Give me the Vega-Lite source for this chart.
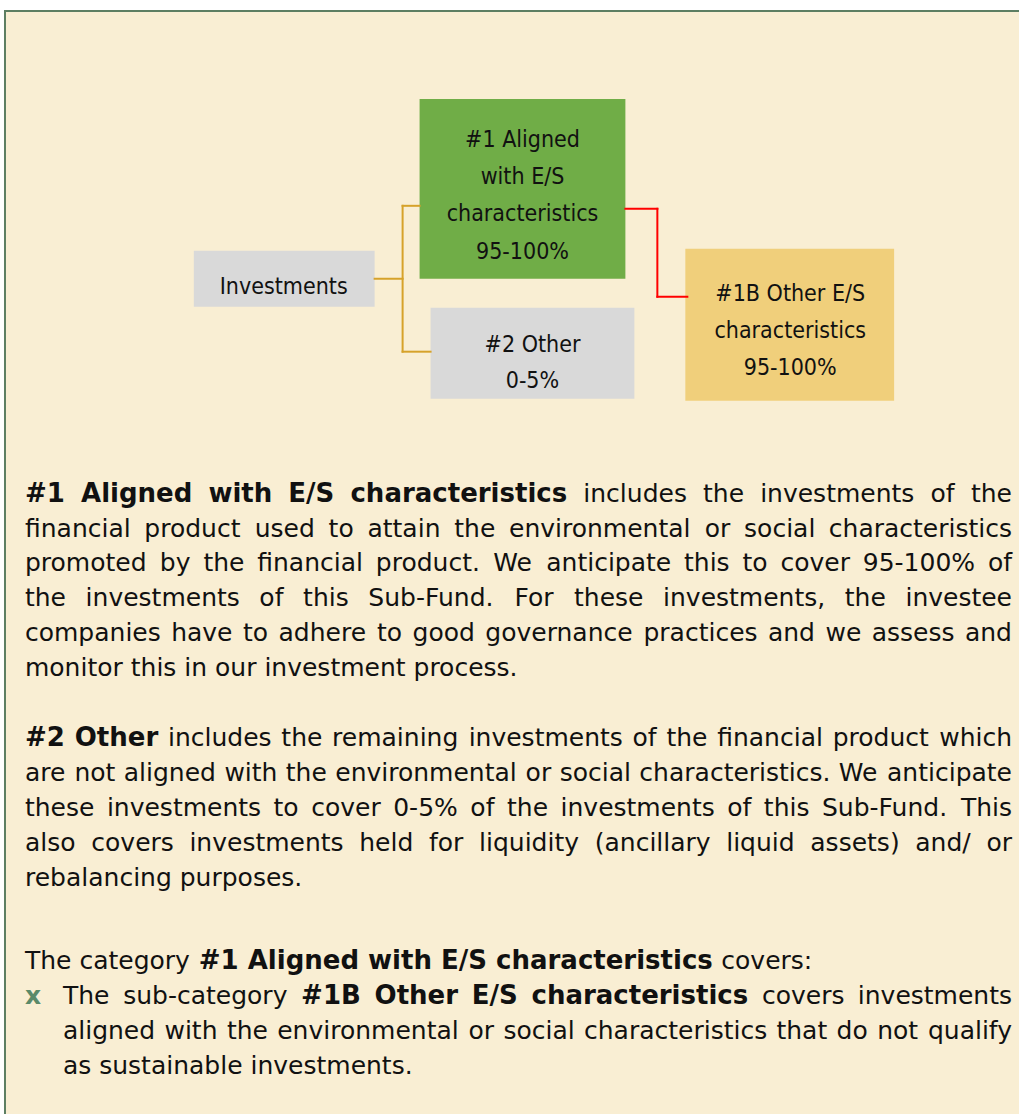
{
  "$schema": "https://vega.github.io/schema/vega-lite/v6.json",
  "width": 1020,
  "height": 1115,
  "autosize": {"type": "fit", "contains": "padding"},
  "padding": 0,
  "background": "#ffffff",
  "config": {"view": {"stroke": null}},
  "datasets": {
    "frame": [{"x": 5, "x2": 1020, "y": 11, "y2": 1115}],
    "border": [
      {"x": 5, "x2": 5, "y": 10, "y2": 1115},
      {"x": 4, "x2": 1020, "y": 11, "y2": 11}
    ],
    "boxes": [
      {"name": "Investments", "x": 194, "x2": 375, "y": 251, "y2": 307},
      {"name": "#1 Aligned", "x": 420, "x2": 626, "y": 99, "y2": 279},
      {"name": "#2 Other", "x": 431, "x2": 635, "y": 308, "y2": 399},
      {"name": "#1B Other", "x": 686, "x2": 895, "y": 249, "y2": 401}
    ],
    "links": [
      {"kind": "gold", "x": 375, "y": 279, "x2": 403, "y2": 279},
      {"kind": "gold", "x": 403, "y": 206, "x2": 403, "y2": 352},
      {"kind": "gold", "x": 403, "y": 206, "x2": 420, "y2": 206},
      {"kind": "gold", "x": 403, "y": 352, "x2": 431, "y2": 352},
      {"kind": "red", "x": 626, "y": 209, "x2": 658, "y2": 209},
      {"kind": "red", "x": 658, "y": 209, "x2": 658, "y2": 297},
      {"kind": "red", "x": 658, "y": 297, "x2": 688, "y2": 297}
    ],
    "words": [
      {"k": "box", "s": "#1 Aligned", "x": 523, "y": 147},
      {"k": "box", "s": "with E/S", "x": 523, "y": 184},
      {"k": "box", "s": "characteristics", "x": 523, "y": 221.5},
      {"k": "box", "s": "95-100%", "x": 523, "y": 259},
      {"k": "box", "s": "Investments", "x": 284, "y": 294},
      {"k": "box", "s": "#2 Other", "x": 533, "y": 352},
      {"k": "box", "s": "0-5%", "x": 533, "y": 388},
      {"k": "box", "s": "#1B Other E/S", "x": 791, "y": 301},
      {"k": "box", "s": "characteristics", "x": 791, "y": 338},
      {"k": "box", "s": "95-100%", "x": 791, "y": 375},

      {"k": "b", "s": "#1", "x": 25, "y": 502},
      {"k": "b", "s": "Aligned", "x": 81.1, "y": 502},
      {"k": "b", "s": "with", "x": 208.6, "y": 502},
      {"k": "b", "s": "E/S", "x": 288.6, "y": 502},
      {"k": "b", "s": "characteristics", "x": 350.8, "y": 502},
      {"k": "r", "s": "includes", "x": 583.9, "y": 502},
      {"k": "r", "s": "the", "x": 703.7, "y": 502},
      {"k": "r", "s": "investments", "x": 760.9, "y": 502},
      {"k": "r", "s": "of", "x": 931.3, "y": 502},
      {"k": "rr", "s": "the", "x": 1013, "y": 502},

      {"k": "r", "s": "financial", "x": 25, "y": 537},
      {"k": "r", "s": "product", "x": 144.5, "y": 537},
      {"k": "r", "s": "used", "x": 255, "y": 537},
      {"k": "r", "s": "to", "x": 328.9, "y": 537},
      {"k": "r", "s": "attain", "x": 367.8, "y": 537},
      {"k": "r", "s": "the", "x": 454.7, "y": 537},
      {"k": "r", "s": "environmental", "x": 509.5, "y": 537},
      {"k": "r", "s": "or", "x": 705.4, "y": 537},
      {"k": "r", "s": "social", "x": 744.8, "y": 537},
      {"k": "rr", "s": "characteristics", "x": 1013, "y": 537},

      {"k": "r", "s": "promoted", "x": 25, "y": 572},
      {"k": "r", "s": "by", "x": 160, "y": 572},
      {"k": "r", "s": "the", "x": 203.6, "y": 572},
      {"k": "r", "s": "financial", "x": 257.5, "y": 572},
      {"k": "r", "s": "product.", "x": 376.2, "y": 572},
      {"k": "r", "s": "We", "x": 493.8, "y": 572},
      {"k": "r", "s": "anticipate", "x": 546.8, "y": 572},
      {"k": "r", "s": "this", "x": 684.7, "y": 572},
      {"k": "r", "s": "to", "x": 743.2, "y": 572},
      {"k": "r", "s": "cover", "x": 781.2, "y": 572},
      {"k": "r", "s": "95-100%", "x": 863.6, "y": 572},
      {"k": "rr", "s": "of", "x": 1013, "y": 572},

      {"k": "r", "s": "the", "x": 25, "y": 607},
      {"k": "r", "s": "investments", "x": 85.7, "y": 607},
      {"k": "r", "s": "of", "x": 259.6, "y": 607},
      {"k": "r", "s": "this", "x": 303.4, "y": 607},
      {"k": "r", "s": "Sub-Fund.", "x": 368.7, "y": 607},
      {"k": "r", "s": "For", "x": 514.9, "y": 607},
      {"k": "r", "s": "these", "x": 574.6, "y": 607},
      {"k": "r", "s": "investments,", "x": 663.7, "y": 607},
      {"k": "r", "s": "the", "x": 845.6, "y": 607},
      {"k": "rr", "s": "investee", "x": 1013, "y": 607},

      {"k": "r", "s": "companies", "x": 25, "y": 642},
      {"k": "r", "s": "have", "x": 171.3, "y": 642},
      {"k": "r", "s": "to", "x": 243.2, "y": 642},
      {"k": "r", "s": "adhere", "x": 278.8, "y": 642},
      {"k": "r", "s": "to", "x": 377.4, "y": 642},
      {"k": "r", "s": "good", "x": 413, "y": 642},
      {"k": "r", "s": "governance", "x": 485.8, "y": 642},
      {"k": "r", "s": "practices", "x": 644.1, "y": 642},
      {"k": "r", "s": "and", "x": 768.7, "y": 642},
      {"k": "r", "s": "we", "x": 826.3, "y": 642},
      {"k": "r", "s": "assess", "x": 872.6, "y": 642},
      {"k": "rr", "s": "and", "x": 1013, "y": 642},

      {"k": "r", "s": "monitor this in our investment process.", "x": 25, "y": 677},

      {"k": "b", "s": "#2", "x": 25, "y": 747},
      {"k": "b", "s": "Other", "x": 74.8, "y": 747},
      {"k": "r", "s": "includes", "x": 168.1, "y": 747},
      {"k": "r", "s": "the", "x": 281.6, "y": 747},
      {"k": "r", "s": "remaining", "x": 332.4, "y": 747},
      {"k": "r", "s": "investments", "x": 469.1, "y": 747},
      {"k": "r", "s": "of", "x": 633.1, "y": 747},
      {"k": "r", "s": "the", "x": 667.1, "y": 747},
      {"k": "r", "s": "financial", "x": 717.9, "y": 747},
      {"k": "r", "s": "product", "x": 833.5, "y": 747},
      {"k": "rr", "s": "which", "x": 1013, "y": 747},

      {"k": "r", "s": "are", "x": 25, "y": 782},
      {"k": "r", "s": "not", "x": 74.5, "y": 782},
      {"k": "r", "s": "aligned", "x": 123.9, "y": 782},
      {"k": "r", "s": "with", "x": 224.6, "y": 782},
      {"k": "r", "s": "the", "x": 286.1, "y": 782},
      {"k": "r", "s": "environmental", "x": 335.6, "y": 782},
      {"k": "r", "s": "or", "x": 526.1, "y": 782},
      {"k": "r", "s": "social", "x": 560.2, "y": 782},
      {"k": "r", "s": "characteristics.", "x": 640, "y": 782},
      {"k": "r", "s": "We", "x": 839.6, "y": 782},
      {"k": "rr", "s": "anticipate", "x": 1013, "y": 782},

      {"k": "r", "s": "these", "x": 25, "y": 817},
      {"k": "r", "s": "investments", "x": 107, "y": 817},
      {"k": "r", "s": "to", "x": 273.8, "y": 817},
      {"k": "r", "s": "cover", "x": 311.5, "y": 817},
      {"k": "r", "s": "0-5%", "x": 393.6, "y": 817},
      {"k": "r", "s": "of", "x": 470.8, "y": 817},
      {"k": "r", "s": "the", "x": 507.5, "y": 817},
      {"k": "r", "s": "investments", "x": 561.1, "y": 817},
      {"k": "r", "s": "of", "x": 727.9, "y": 817},
      {"k": "r", "s": "this", "x": 764.6, "y": 817},
      {"k": "r", "s": "Sub-Fund.", "x": 822.8, "y": 817},
      {"k": "rr", "s": "This", "x": 1013, "y": 817},

      {"k": "r", "s": "also", "x": 25, "y": 852},
      {"k": "r", "s": "covers", "x": 91.4, "y": 852},
      {"k": "r", "s": "investments", "x": 189.6, "y": 852},
      {"k": "r", "s": "held", "x": 359.6, "y": 852},
      {"k": "r", "s": "for", "x": 429.4, "y": 852},
      {"k": "r", "s": "liquidity", "x": 479.5, "y": 852},
      {"k": "r", "s": "(ancillary", "x": 595.3, "y": 852},
      {"k": "r", "s": "liquid", "x": 726.9, "y": 852},
      {"k": "r", "s": "assets)", "x": 811.1, "y": 852},
      {"k": "r", "s": "and/", "x": 916.2, "y": 852},
      {"k": "rr", "s": "or", "x": 1013, "y": 852},

      {"k": "r", "s": "rebalancing purposes.", "x": 25, "y": 887},

      {"k": "r", "s": "The category", "x": 25, "y": 970},
      {"k": "b", "s": "#1 Aligned with E/S characteristics", "x": 199, "y": 970},
      {"k": "r", "s": "covers:", "x": 722, "y": 970},

      {"k": "bullet", "s": "x", "x": 25, "y": 1005},
      {"k": "r", "s": "The", "x": 63, "y": 1005},
      {"k": "r", "s": "sub-category", "x": 123.3, "y": 1005},
      {"k": "b", "s": "#1B", "x": 301.4, "y": 1005},
      {"k": "b", "s": "Other", "x": 374.9, "y": 1005},
      {"k": "b", "s": "E/S", "x": 472.2, "y": 1005},
      {"k": "b", "s": "characteristics", "x": 532, "y": 1005},
      {"k": "r", "s": "covers", "x": 762.7, "y": 1005},
      {"k": "rr", "s": "investments", "x": 1013, "y": 1005},

      {"k": "r", "s": "aligned", "x": 63, "y": 1040},
      {"k": "r", "s": "with", "x": 164.6, "y": 1040},
      {"k": "r", "s": "the", "x": 227.1, "y": 1040},
      {"k": "r", "s": "environmental", "x": 277.5, "y": 1040},
      {"k": "r", "s": "or", "x": 468.9, "y": 1040},
      {"k": "r", "s": "social", "x": 503.9, "y": 1040},
      {"k": "r", "s": "characteristics", "x": 584.6, "y": 1040},
      {"k": "r", "s": "that", "x": 777.2, "y": 1040},
      {"k": "r", "s": "do", "x": 837.4, "y": 1040},
      {"k": "r", "s": "not", "x": 878, "y": 1040},
      {"k": "rr", "s": "qualify", "x": 1013, "y": 1040},

      {"k": "r", "s": "as sustainable investments.", "x": 63, "y": 1075}
    ]
  },
  "layer": [
    {
      "data": {"name": "frame"},
      "mark": {"type": "rect", "color": "#f9eed3"},
      "encoding": {
        "x": {"field": "x", "type": "quantitative", "scale": {"domain": [0, 1020], "nice": false, "zero": false}, "axis": null},
        "x2": {"field": "x2"},
        "y": {"field": "y", "type": "quantitative", "scale": {"domain": [0, 1115], "nice": false, "zero": false, "reverse": true}, "axis": null},
        "y2": {"field": "y2"}
      }
    },
    {
      "data": {"name": "border"},
      "mark": {"type": "rule", "color": "#5d7e62", "strokeWidth": 2},
      "encoding": {
        "x": {"field": "x", "type": "quantitative"},
        "x2": {"field": "x2"},
        "y": {"field": "y", "type": "quantitative"},
        "y2": {"field": "y2"}
      }
    },
    {
      "data": {"name": "boxes"},
      "mark": {"type": "rect", "opacity": 1},
      "encoding": {
        "x": {"field": "x", "type": "quantitative"},
        "x2": {"field": "x2"},
        "y": {"field": "y", "type": "quantitative"},
        "y2": {"field": "y2"},
        "fill": {"field": "name", "type": "nominal", "legend": null,
          "scale": {"domain": ["Investments", "#1 Aligned", "#2 Other", "#1B Other"], "range": ["#d9d9d9", "#70ad47", "#d9d9d9", "#f0cf7b"]}}
      }
    },
    {
      "data": {"name": "links"},
      "mark": {"type": "rule", "strokeWidth": 2, "strokeCap": "square"},
      "encoding": {
        "x": {"field": "x", "type": "quantitative"},
        "x2": {"field": "x2"},
        "y": {"field": "y", "type": "quantitative"},
        "y2": {"field": "y2"},
        "stroke": {"field": "kind", "type": "nominal", "legend": null,
          "scale": {"domain": ["gold", "red"], "range": ["#d6a22a", "#ff0000"]}}
      }
    },
    {
      "data": {"name": "words"},
      "transform": [{"filter": "datum.k === 'box'"}],
      "mark": {"type": "text", "align": "center", "baseline": "alphabetic", "font": "DejaVu Sans Condensed, DejaVu Sans", "fontSize": 23, "color": "#111111"},
      "encoding": {
        "x": {"field": "x", "type": "quantitative"},
        "y": {"field": "y", "type": "quantitative"},
        "text": {"field": "s"}
      }
    },
    {
      "data": {"name": "words"},
      "transform": [{"filter": "datum.k === 'r'"}],
      "mark": {"type": "text", "align": "left", "baseline": "alphabetic", "font": "DejaVu Sans", "fontSize": 25, "color": "#111111"},
      "encoding": {
        "x": {"field": "x", "type": "quantitative"},
        "y": {"field": "y", "type": "quantitative"},
        "text": {"field": "s"}
      }
    },
    {
      "data": {"name": "words"},
      "transform": [{"filter": "datum.k === 'rr'"}],
      "mark": {"type": "text", "align": "right", "baseline": "alphabetic", "font": "DejaVu Sans", "fontSize": 25, "color": "#111111"},
      "encoding": {
        "x": {"field": "x", "type": "quantitative"},
        "y": {"field": "y", "type": "quantitative"},
        "text": {"field": "s"}
      }
    },
    {
      "data": {"name": "words"},
      "transform": [{"filter": "datum.k === 'b'"}],
      "mark": {"type": "text", "align": "left", "baseline": "alphabetic", "font": "DejaVu Sans", "fontSize": 26, "fontWeight": "bold", "color": "#111111"},
      "encoding": {
        "x": {"field": "x", "type": "quantitative"},
        "y": {"field": "y", "type": "quantitative"},
        "text": {"field": "s"}
      }
    },
    {
      "data": {"name": "words"},
      "transform": [{"filter": "datum.k === 'bullet'"}],
      "mark": {"type": "text", "align": "left", "baseline": "alphabetic", "font": "DejaVu Sans", "fontSize": 25, "fontWeight": "bold", "color": "#5b8a69"},
      "encoding": {
        "x": {"field": "x", "type": "quantitative"},
        "y": {"field": "y", "type": "quantitative"},
        "text": {"field": "s"}
      }
    }
  ]
}
